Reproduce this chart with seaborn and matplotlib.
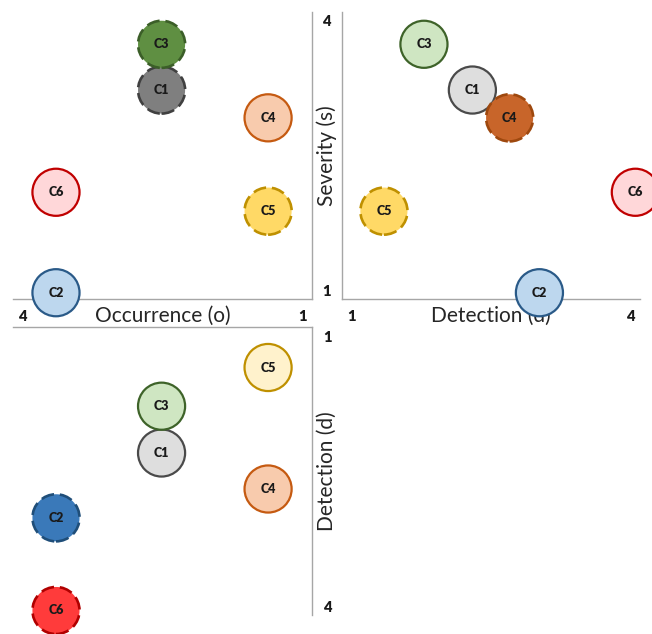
import matplotlib
matplotlib.use("Agg")
import matplotlib.pyplot as plt
import seaborn as sns
import pandas as pd

# ---- data ----
categories = ["C1", "C2", "C3", "C4", "C5", "C6"]
occurrence = [2.51, 3.64, 2.51, 1.37, 1.37, 3.64]
severity = [3.23, 0.97, 3.74, 2.92, 1.88, 2.09]
detection = [2.30, 3.02, 1.78, 2.70, 1.35, 4.05]
axis_ticks = [1, 4]
highlight_os = ["C1", "C3", "C5"]
highlight_ds = ["C4", "C5"]
highlight_od = ["C2", "C6"]

# ---- styles ----
light = {"C1": "#DEDEDE", "C2": "#BDD7EE", "C3": "#CFE6C2", "C4": "#F8CBAD",
         "C5": "#FFF2CC", "C6": "#FFD7D9"}
dark = {"C1": "#7F7F7F", "C2": "#3A79B9", "C3": "#5F8F42", "C4": "#C8652A",
        "C5": "#FFD966", "C6": "#FF3B3B"}
edge = {"C1": "#4A4A4A", "C2": "#2A5A88", "C3": "#3E6329", "C4": "#C55A11",
        "C5": "#BF9000", "C6": "#C00000"}
edge_dark = {"C1": "#404040", "C2": "#1F4E79", "C3": "#3B5E28", "C4": "#9E480E",
             "C5": "#BF9000", "C6": "#B00000"}

sns.set_theme(style="white")
plt.rcParams["font.family"] = ["Lato", "DejaVu Sans"]
BOLD_FONT = ["Lato", "DejaVu Sans"]
HEAVY = 800

SPINE = "#A6A6A6"
LIM = (0.9, 4.1)

fig = plt.figure(figsize=(6.52, 6.34), dpi=100)
W, H = 652, 634


def add_ax(x0, y0, x1, y1):
    return fig.add_axes([x0 / W, 1 - y1 / H, (x1 - x0) / W, (y1 - y0) / H])


def bold_ticks(labels):
    for t in labels:
        t.set_family(BOLD_FONT)
        t.set_fontweight(HEAVY)
        t.set_fontsize(10.5)
        t.set_color("#1a1a1a")


def panel(ax, xvals, yvals, highlight):
    df = pd.DataFrame({"x": xvals, "y": yvals, "cat": categories})
    face = {c: (dark[c] if c in highlight else light[c]) for c in categories}
    sns.scatterplot(data=df, x="x", y="y", hue="cat", palette=face, s=1150,
                    legend=False, ax=ax, clip_on=False, zorder=3, linewidth=1.6)
    coll = ax.collections[-1]
    coll.set_edgecolors([edge_dark[c] if c in highlight else edge[c] for c in categories])
    coll.set_linestyles([(0, (5, 2.2)) if c in highlight else "solid" for c in categories])
    coll.set_linewidths([1.9 if c in highlight else 1.6 for c in categories])
    for x, y, c in zip(xvals, yvals, categories):
        ax.text(x, y, c, ha="center", va="center", fontsize=9, fontweight=HEAVY,
                family=BOLD_FONT, color="#1a1a1a", zorder=4)
    ax.set_xlabel("")
    ax.set_ylabel("")
    for sp in ax.spines.values():
        sp.set_visible(False)
        sp.set_color(SPINE)
        sp.set_linewidth(1.0)
    ax.tick_params(length=0, pad=8)
    ax.set_facecolor("none")


LABEL_KW = dict(fontsize=15, color="#262626")

# top-left: occurrence vs severity
ax1 = add_ax(13, 12, 312, 299)
panel(ax1, occurrence, severity, highlight_os)
ax1.set_xlim(LIM[1], LIM[0])
ax1.set_ylim(*LIM)
ax1.spines["bottom"].set_visible(True)
ax1.spines["right"].set_visible(True)
ax1.set_xticks(axis_ticks)
ax1.set_xticklabels([str(t) for t in axis_ticks])
bold_ticks(ax1.get_xticklabels())
ax1.set_yticks([])
ax1.set_xlabel("Occurrence (o)", **LABEL_KW)
ax1.xaxis.set_label_coords(0.5, -0.058)
ax1.xaxis.label.set_va("center")

# top-right: detection vs severity
ax2 = add_ax(342, 12, 640, 299)
panel(ax2, detection, severity, highlight_ds)
ax2.set_xlim(*LIM)
ax2.set_ylim(*LIM)
ax2.spines["bottom"].set_visible(True)
ax2.spines["left"].set_visible(True)
ax2.set_xticks(axis_ticks)
ax2.set_xticklabels([str(t) for t in axis_ticks])
ax2.set_yticks(axis_ticks)
ax2.set_yticklabels([str(t) for t in axis_ticks])
bold_ticks(ax2.get_xticklabels())
bold_ticks(ax2.get_yticklabels())
ax2.set_xlabel("Detection (d)", **LABEL_KW)
ax2.xaxis.set_label_coords(0.5, -0.058)
ax2.xaxis.label.set_va("center")
ax2.set_ylabel("Severity (s)", **LABEL_KW)
ax2.yaxis.set_label_coords(-0.05, 0.5)
ax2.yaxis.label.set_va("center")
ax2.yaxis.label.set_ha("center")

# bottom-left: occurrence vs detection
ax3 = add_ax(13, 327, 312, 615)
panel(ax3, occurrence, detection, highlight_od)
ax3.set_xlim(LIM[1], LIM[0])
ax3.set_ylim(LIM[1], LIM[0])
ax3.spines["top"].set_visible(True)
ax3.spines["right"].set_visible(True)
ax3.set_xticks([])
ax3.yaxis.tick_right()
ax3.set_yticks(axis_ticks)
ax3.set_yticklabels([str(t) for t in axis_ticks])
bold_ticks(ax3.get_yticklabels())
ax3.yaxis.set_label_position("right")
ax3.set_ylabel("Detection (d)", rotation=90, **LABEL_KW)
ax3.yaxis.set_label_coords(1.05, 0.5)
ax3.yaxis.label.set_va("center")
ax3.yaxis.label.set_ha("center")

fig.savefig("out.png", dpi=100)
